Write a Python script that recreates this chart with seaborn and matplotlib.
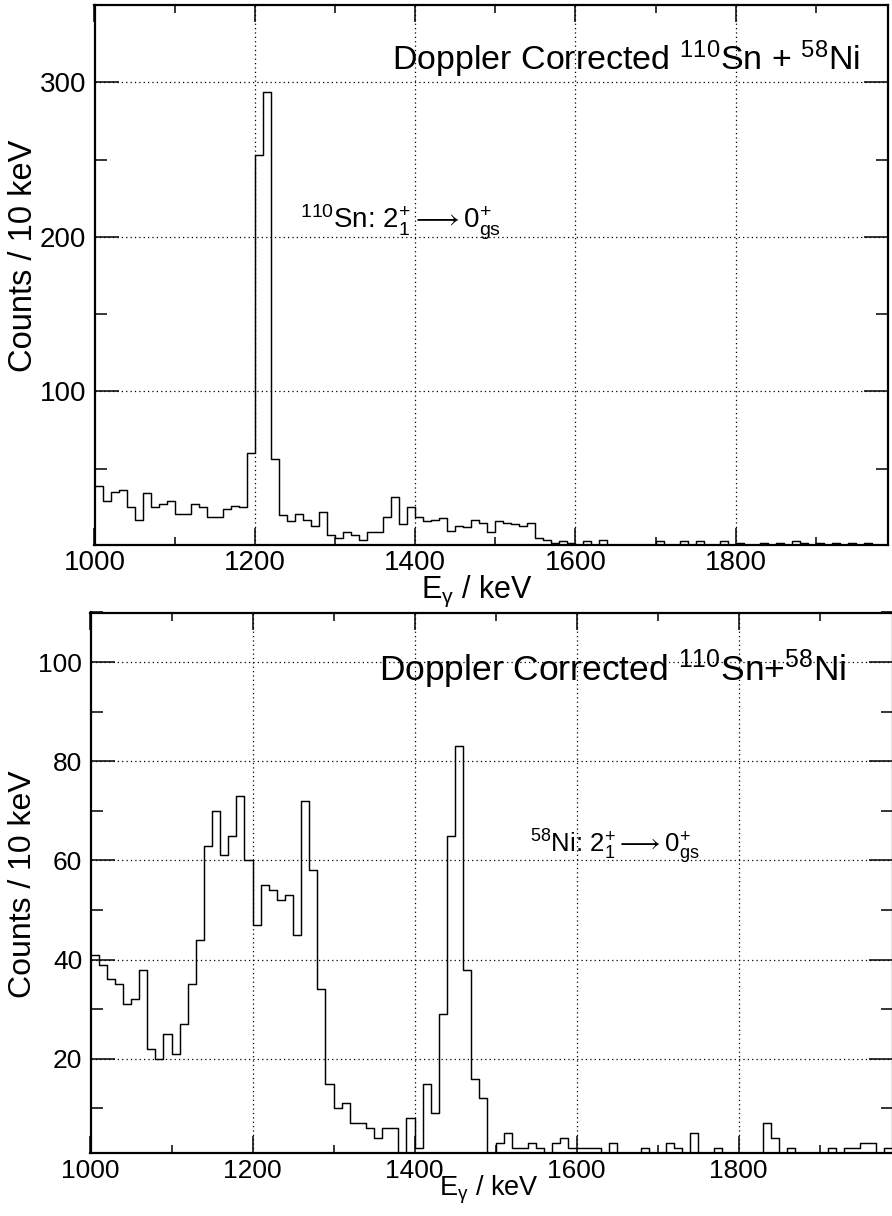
import numpy as np
import pandas as pd
import matplotlib
matplotlib.use("Agg")
import matplotlib.pyplot as plt
import seaborn as sns

# Gamma-ray energy binning: 10 keV bins from 1000 keV
bin_lo = 1000
bin_hi = 1990
bin_width = 10

# Doppler corrected for 110Sn (counts per 10 keV bin)
counts_sn = [
    39, 29, 35, 36, 25, 17, 34, 25, 27, 29,
    21, 21, 27, 25, 19, 19, 24, 26, 25, 60,
    253, 294, 56, 20, 16, 21, 17, 13, 22, 7,
    5, 9, 7, 4, 9, 9, 19, 32, 14, 25,
    19, 16, 17, 18, 10, 13, 12, 17, 15, 9,
    16, 15, 14, 13, 15, 5, 4, 2, 3, 2,
    1, 3, 1, 4, 1, 1, 1, 1, 1, 1,
    3, 1, 1, 3, 1, 3, 1, 1, 3, 1,
    2, 1, 1, 2, 1, 2, 1, 3, 2, 1,
    2, 1, 2, 1, 2, 1, 2, 1, 1,
]

# Doppler corrected for 58Ni (counts per 10 keV bin)
counts_ni = [
    41, 39, 36, 35, 31, 32, 38, 22, 20, 25,
    21, 27, 35, 44, 63, 70, 61, 65, 73, 60,
    47, 55, 54, 52, 53, 45, 72, 58, 34, 15,
    10, 11, 7, 7, 6, 4, 6, 6, 1, 8,
    2, 15, 9, 29, 65, 83, 38, 16, 12, 1,
    3, 5, 2, 2, 3, 2, 1, 3, 4, 2,
    2, 2, 2, 1, 3, 1, 1, 1, 2, 1,
    1, 3, 2, 1, 5, 1, 1, 2, 1, 1,
    1, 1, 1, 7, 4, 1, 2, 1, 1, 1,
    1, 2, 1, 2, 2, 3, 3, 1, 2,
]

x_ticks = [1000, 1200, 1400, 1600, 1800]
y_ticks_sn = [100, 200, 300]
y_ticks_ni = [20, 40, 60, 80, 100]

n_bins = len(counts_sn)
centers = bin_lo + bin_width * (np.arange(n_bins) + 0.5)

df = pd.DataFrame({
    "energy": np.concatenate([centers, centers]),
    "counts": np.concatenate([counts_sn, counts_ni]).astype(float),
    "panel": ["sn"] * n_bins + ["ni"] * n_bins,
})

sns.set_theme(style="ticks")
plt.rcParams["font.family"] = ["Liberation Sans", "DejaVu Sans"]
plt.rcParams["mathtext.fontset"] = "custom"
plt.rcParams["mathtext.rm"] = "Liberation Sans"
plt.rcParams["mathtext.it"] = "Liberation Sans:italic"
plt.rcParams["mathtext.bf"] = "Liberation Sans:bold"
plt.rcParams["text.color"] = "black"
plt.rcParams["axes.labelcolor"] = "black"
plt.rcParams["xtick.color"] = "black"
plt.rcParams["ytick.color"] = "black"

W, H = 892, 1216
fig = plt.figure(figsize=(W / 100, H / 100), dpi=100, facecolor="white")


def px_axes(left, top, right, bottom):
    return fig.add_axes([left / W, 1 - bottom / H, (right - left) / W, (bottom - top) / H])


def style_axes(ax, ylim, yticks, ymin_step, tick_size, xl_pos, yl_pos):
    ax.set_xlim(bin_lo, bin_hi)
    ax.set_ylim(*ylim)
    ax.set_xticks(x_ticks)
    ax.set_xticks(np.arange(1100, 1991, 200), minor=True)
    ax.set_yticks(yticks)
    ax.set_yticks(np.arange(ymin_step, ylim[1] + 0.1, 2 * ymin_step), minor=True)
    ax.tick_params(which="both", direction="in", top=True, right=True,
                   width=1.1, color="black", labelsize=tick_size, labelcolor="black")
    ax.tick_params(axis="x", which="major", length=12.5, pad=4)
    ax.tick_params(axis="x", which="minor", length=6)
    ax.tick_params(axis="y", which="major", length=17.5, pad=6)
    ax.tick_params(axis="y", which="minor", length=8.5)
    ax.grid(True, which="major", color="black", linestyle=(0, (1, 2.5)), linewidth=0.9)
    for sp in ax.spines.values():
        sp.set_linewidth(1.6)
        sp.set_color("black")
    ax.set_facecolor("white")
    ax.xaxis.set_label_coords(*xl_pos)
    ax.yaxis.set_label_coords(*yl_pos)


xlabel = r"E$_{\mathrm{γ}}$ / keV"
ylabel = "Counts / 10 keV"

# ---- upper panel: 110Sn ----
ax1 = px_axes(94.5, 5, 888, 544.5)
sns.histplot(data=df[df.panel == "sn"], x="energy", weights="counts",
             binwidth=bin_width, binrange=(bin_lo, bin_hi),
             element="step", fill=False, color="black", linewidth=1.05, ax=ax1)
ax1.set_xlabel(xlabel, fontsize=22, va="center")
ax1.set_ylabel(ylabel, fontsize=23.5, va="center")
style_axes(ax1, (1, 350), y_ticks_sn, 50, 20, (0.482, -0.087), (-0.090, 0.535))
ax1.text(0.375, 0.880, r"Doppler Corrected $^{110}$Sn + $^{58}$Ni", transform=ax1.transAxes,
         fontsize=24.5, ha="left", va="baseline")
ax1.text(0.259, 0.585, r"$^{110}$Sn: $2^{+}_{1} \longrightarrow 0^{+}_{\mathrm{gs}}$",
         transform=ax1.transAxes, fontsize=20, ha="left", va="baseline")

# ---- lower panel: 58Ni ----
ax2 = px_axes(90.5, 612.5, 892.5, 1153)
sns.histplot(data=df[df.panel == "ni"], x="energy", weights="counts",
             binwidth=bin_width, binrange=(bin_lo, bin_hi),
             element="step", fill=False, color="black", linewidth=1.05, ax=ax2)
ax2.set_xlabel(xlabel, fontsize=19.5, va="center")
ax2.set_ylabel(ylabel, fontsize=23, va="center")
style_axes(ax2, (1, 110), y_ticks_ni, 10, 19, (0.497, -0.0685), (-0.084, 0.497))
ax2.text(0.3597, 0.8733, r"Doppler Corrected $^{110}$Sn+$^{58}$Ni", transform=ax2.transAxes,
         fontsize=25.5, ha="left", va="baseline")
ax2.text(0.548, 0.555, r"$^{58}$Ni: $2^{+}_{1} \longrightarrow 0^{+}_{\mathrm{gs}}$",
         transform=ax2.transAxes, fontsize=18.5, ha="left", va="baseline")

fig.savefig("out.png", dpi=100, facecolor="white")
